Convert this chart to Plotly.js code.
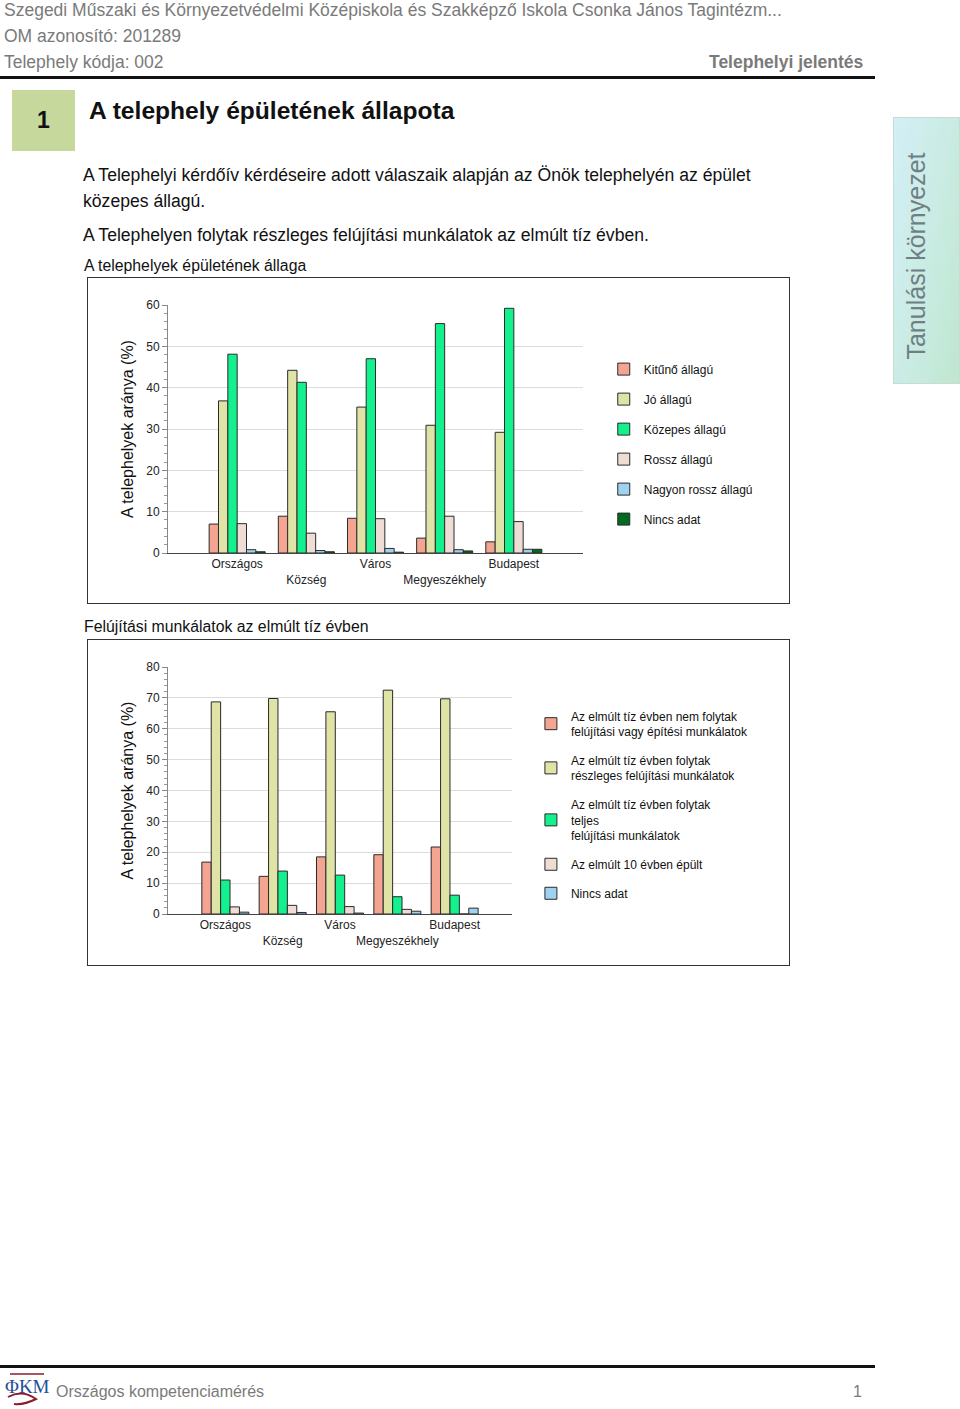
<!DOCTYPE html>
<html>
<head>
<meta charset="utf-8">
<script src="https://cdn.plot.ly/plotly-3.0.1.min.js"></script>
<style>
  html, body { margin:0; padding:0; background:#fff; }
  body { width:960px; height:1409px; position:relative; overflow:hidden; font-family:"Liberation Sans", Arial, sans-serif; }
  .abs { position:absolute; white-space:nowrap; }
  .hdr { color:#7a7a7a; font-size:17.5px; }
  .txt { color:#111; font-size:17.6px; }
  .frame { position:absolute; border:1px solid #333; box-sizing:border-box; }
</style>
</head>
<body>
<div class="abs hdr" style="left:4px; top:0px;">Szegedi Műszaki és Környezetvédelmi Középiskola és Szakképző Iskola Csonka János Tagintézm...</div>
<div class="abs hdr" style="left:4px; top:26px;">OM azonosító: 201289</div>
<div class="abs hdr" style="left:4px; top:52px;">Telephely kódja: 002</div>
<div class="abs hdr" style="left:709px; top:52px; font-weight:bold;">Telephelyi jelentés</div>
<div class="abs" style="left:0; top:76px; width:875px; height:3px; background:#111;"></div>

<div class="abs" style="left:12px; top:90px; width:63px; height:61px; background:#c6d89c;"></div>
<div class="abs" style="left:12px; top:107px; width:63px; text-align:center; font-weight:bold; font-size:23px; color:#111;">1</div>
<div class="abs" style="left:89px; top:97px; font-weight:bold; font-size:24.6px; color:#111;">A telephely épületének állapota</div>

<div class="abs" style="left:893px; top:117px; width:67px; height:267px; background:linear-gradient(100deg,#d3eff6 0%,#c8ebe0 60%,#bfe6cf 100%); border:1px solid #c9dcd4; box-sizing:border-box;"></div>
<div class="abs" style="left:916px; top:256px; transform:translate(-50%,-50%) rotate(-90deg); font-size:25px; color:#6f7f84;">Tanulási környezet</div>

<div class="abs txt" style="left:83px; top:165px;">A Telephelyi kérdőív kérdéseire adott válaszaik alapján az Önök telephelyén az épület</div>
<div class="abs txt" style="left:83px; top:191px;">közepes állagú.</div>
<div class="abs txt" style="left:83px; top:225px;">A Telephelyen folytak részleges felújítási munkálatok az elmúlt tíz évben.</div>
<div class="abs" style="left:84px; top:257px; font-size:15.8px; color:#111;">A telephelyek épületének állaga</div>
<div class="abs" style="left:84px; top:618px; font-size:15.8px; color:#111;">Felújítási munkálatok az elmúlt tíz évben</div>

<div class="frame" style="left:87px; top:277px; width:703px; height:327px;"><div id="c1" style="width:701px;height:325px;"></div></div>
<div class="frame" style="left:87px; top:639px; width:703px; height:327px;"><div id="c2" style="width:701px;height:325px;"></div></div>

<div class="abs" style="left:0; top:1365px; width:875px; height:3px; background:#111;"></div>
<svg class="abs" style="left:4px; top:1371px;" width="48" height="36" viewBox="0 0 48 36">
  <text x="1" y="22" font-family="Liberation Serif, serif" font-size="19" fill="#1d4f9a">ΦKM</text>
  <path d="M4 26 Q18 18 32 28 Q20 34 10 33" fill="none" stroke="#8b1a2a" stroke-width="2"/>
  <path d="M6 3 L40 3" stroke="#8b1a2a" stroke-width="1.5"/>
</svg>
<div class="abs" style="left:56px; top:1383px; font-size:16px; color:#7a7a7a;">Országos kompetenciamérés</div>
<div class="abs" style="left:853px; top:1383px; font-size:16px; color:#7a7a7a;">1</div>

<script>
// ---- Data ----
var categories = ["Országos", "Község", "Város", "Megyeszékhely", "Budapest"];
var tickLabels = ["Országos", "<br>Község", "Város", "<br>Megyeszékhely", "Budapest"];

var chart1Names = ["Kitűnő állagú", "Jó állagú", "Közepes állagú", "Rossz állagú", "Nagyon rossz állagú", "Nincs adat"];
var kituno      = [7.0, 8.9, 8.4, 3.6, 2.7];
var jo          = [36.8, 44.2, 35.3, 30.9, 29.2];
var kozepes     = [48.1, 41.3, 47.0, 55.5, 59.2];
var rossz       = [7.1, 4.8, 8.3, 8.9, 7.6];
var nagyonRossz = [0.8, 0.6, 1.1, 0.8, 0.9];
var nincsAdat1  = [0.3, 0.3, 0.2, 0.5, 0.9];
var chart1Colors = ["#f4a592", "#dfe4a6", "#14f08e", "#efdcd5", "#9fd2f1", "#006b20"];

var chart2Names = [
  "Az elmúlt tíz évben nem folytak<br>felújítási vagy építési munkálatok",
  "Az elmúlt tíz évben folytak<br>részleges felújítási munkálatok",
  "Az elmúlt tíz évben folytak<br>teljes<br>felújítási munkálatok",
  "Az elmúlt 10 évben épült",
  "Nincs adat"
];
var nemFolytak  = [16.8, 12.2, 18.5, 19.2, 21.7];
var reszleges   = [68.7, 69.8, 65.5, 72.5, 69.7];
var teljes      = [11.0, 13.9, 12.6, 5.6, 6.1];
var epult       = [2.3, 2.8, 2.4, 1.5, 0];
var nincsAdat2  = [0.6, 0.5, 0.3, 0.9, 1.9];
var chart2Colors = ["#f4a592", "#dfe4a6", "#14f08e", "#efdcd5", "#9fd2f1"];

var FONT = "Liberation Sans, Arial, sans-serif";

function makeTraces(names, series, colors) {
  return series.map(function (vals, i) {
    return {
      type: "bar", x: categories, y: vals, name: names[i],
      legendgroup: "g" + i,
      marker: { color: colors[i], line: { color: "#2a2a2a", width: 1 } },
      hoverinfo: "y+name"
    };
  });
}

function makeLayout(ymax, margins, legend) {
  return {
    width: 701, height: 325,
    margin: margins,
    paper_bgcolor: "#fff", plot_bgcolor: "#fff",
    barmode: "group", bargap: 0.19, bargroupgap: 0,
    font: { family: FONT, size: 12, color: "#222" },
    showlegend: true,
    legend: legend,
    xaxis: {
      type: "category", range: [-1, 5], tickmode: "array",
      tickvals: categories, ticktext: tickLabels, tickangle: 0,
      showline: true, linecolor: "#444", linewidth: 1,
      ticks: "", showgrid: false, tickfont: { size: 12, color: "#222" },
      fixedrange: true
    },
    yaxis: {
      range: [0, ymax], dtick: 10, showgrid: true, gridcolor: "#dcdcdc",
      showline: true, linecolor: "#888", linewidth: 1,
      ticks: "outside", ticklen: 5, tickcolor: "#888",
      minor: { dtick: 2, ticks: "outside", ticklen: 3, tickcolor: "#999", showgrid: false },
      zeroline: false, tickfont: { size: 12, color: "#222" },
      title: { text: "A telephelyek aránya (%)", font: { size: 16, color: "#111" }, standoff: 8 },
      fixedrange: true
    }
  };
}

var t1 = makeTraces(chart1Names, [kituno, jo, kozepes, rossz, nagyonRossz, nincsAdat1], chart1Colors);
var l1 = makeLayout(60, { l: 80, r: 206, t: 27, b: 50 },
  { x: 1.05, xanchor: "left", y: 0.8, yanchor: "top", tracegroupgap: 11,
    font: { size: 12, color: "#111" }, bgcolor: "rgba(0,0,0,0)" });
Plotly.newPlot("c1", t1, l1, { displayModeBar: false, staticPlot: true });

var t2 = makeTraces(chart2Names, [nemFolytak, reszleges, teljes, epult, nincsAdat2], chart2Colors);
var l2 = makeLayout(80, { l: 80, r: 277, t: 27, b: 51 },
  { x: 1.055, xanchor: "left", y: 0.86, yanchor: "top", tracegroupgap: 10,
    font: { size: 12, color: "#111" }, bgcolor: "rgba(0,0,0,0)" });
l2.bargap = 0.18;
Plotly.newPlot("c2", t2, l2, { displayModeBar: false, staticPlot: true });
</script>
</body>
</html>
